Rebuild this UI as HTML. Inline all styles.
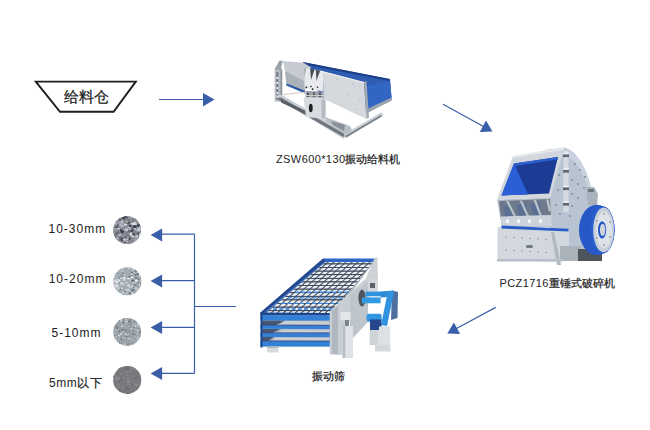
<!DOCTYPE html>
<html><head><meta charset="utf-8">
<style>
html,body{margin:0;padding:0;background:#fff;width:650px;height:430px;overflow:hidden;}
body{position:relative;font-family:"Liberation Sans",sans-serif;color:#333;}
.t{position:absolute;white-space:nowrap;line-height:1;}
.c{-webkit-text-stroke:0.25px #222;}
svg{position:absolute;left:0;top:0;}
</style></head><body>
<svg width="650" height="430" viewBox="0 0 650 430">
  <defs>
    <filter id="soft" x="-5%" y="-5%" width="110%" height="110%"><feGaussianBlur stdDeviation="0.35"/></filter>
    <pattern id="mesh" x="0" y="0.5" width="6" height="3.6" patternUnits="userSpaceOnUse" patternTransform="skewX(-48)">
      <rect width="6" height="3.6" fill="#eef1f4"/>
      <rect x="0" y="0" width="1.8" height="3.6" fill="#5a6470"/>
      <rect x="0" y="0" width="6" height="1.15" fill="#3a4862"/>
    </pattern>
    
    <clipPath id="c1"><circle cx="127.1" cy="230.1" r="13.9"/></clipPath>
    <clipPath id="c2"><circle cx="127.3" cy="281.3" r="14"/></clipPath>
    <clipPath id="c3"><circle cx="127.2" cy="331.9" r="13.9"/></clipPath>
    <clipPath id="c4"><circle cx="127.3" cy="379.9" r="14"/></clipPath>
  </defs>
  <!-- hopper -->
  <polygon points="35.8,81.6 135.8,81.6 113.6,111.8 60,111.8" fill="#fff" stroke="#1e1e1e" stroke-width="1.9"/>
  <!-- arrows -->
  <g fill="#3b5ea8" stroke="#3b5ea8">
    <line x1="159" y1="99.5" x2="204" y2="99.5" stroke-width="1.2"/>
    <polygon points="203,93 214.5,99.5 203,106.5" stroke="none"/>
    <line x1="443" y1="104.2" x2="484" y2="126.8" stroke-width="1.2"/>
    <polygon points="492.5,131.5 479.8,131.9 486,120.5" stroke="none"/>
    <line x1="495.7" y1="307.4" x2="456" y2="328.8" stroke-width="1.2"/>
    <polygon points="447.3,333.5 460.1,334 453.9,322.6" stroke="none"/>
    <line x1="194.5" y1="234" x2="194.5" y2="373.5" stroke-width="1.2"/>
    <line x1="194.5" y1="306.5" x2="236" y2="306.5" stroke-width="1.2"/>
    <line x1="161" y1="234.2" x2="194.5" y2="234.2" stroke-width="1.2"/>
    <polygon points="150.6,235 162.1,228.4 162.1,241.4" stroke="none"/>
    <line x1="161" y1="280.6" x2="194.5" y2="280.6" stroke-width="1.2"/>
    <polygon points="150.6,281 162.1,274.4 162.1,287.4" stroke="none"/>
    <line x1="161" y1="327.3" x2="194.5" y2="327.3" stroke-width="1.2"/>
    <polygon points="150.6,327.5 162.1,321 162.1,334" stroke="none"/>
    <line x1="161" y1="373.4" x2="194.5" y2="373.4" stroke-width="1.2"/>
    <polygon points="150.6,373.5 162.1,367 162.1,380" stroke="none"/>
  </g>
  <!-- stones -->
<g clip-path="url(#c1)"><rect x="112.1" y="215.1" width="30" height="30" fill="#7f838d"/>
<ellipse cx="121.8" cy="219.6" rx="1.58" ry="1.47" fill="#c4c8d2"/>
<ellipse cx="114.9" cy="232.6" rx="1.89" ry="1.16" fill="#b0b4c0"/>
<ellipse cx="125.1" cy="217.2" rx="0.91" ry="0.57" fill="#d8dbe2"/>
<ellipse cx="129.1" cy="243.5" rx="1.56" ry="1.52" fill="#5d616a"/>
<ellipse cx="129.4" cy="227.0" rx="1.97" ry="1.62" fill="#c4c8d2"/>
<ellipse cx="116.1" cy="227.7" rx="1.45" ry="1.05" fill="#5d616a"/>
<ellipse cx="136.6" cy="220.5" rx="1.50" ry="1.01" fill="#9a9ea8"/>
<ellipse cx="115.0" cy="236.5" rx="1.48" ry="1.01" fill="#5d616a"/>
<ellipse cx="132.5" cy="227.9" rx="1.18" ry="1.14" fill="#5d616a"/>
<ellipse cx="122.9" cy="222.6" rx="1.02" ry="0.71" fill="#a39a96"/>
<ellipse cx="129.3" cy="230.9" rx="1.85" ry="1.44" fill="#9a9ea8"/>
<ellipse cx="130.4" cy="217.3" rx="1.41" ry="1.28" fill="#b0b4c0"/>
<ellipse cx="116.7" cy="229.8" rx="0.85" ry="0.53" fill="#9a9ea8"/>
<ellipse cx="128.8" cy="238.8" rx="1.78" ry="1.56" fill="#3b3f48"/>
<ellipse cx="129.9" cy="232.5" rx="1.35" ry="0.86" fill="#a39a96"/>
<ellipse cx="120.2" cy="236.0" rx="0.88" ry="0.77" fill="#9a9ea8"/>
<ellipse cx="131.5" cy="244.9" rx="1.79" ry="1.58" fill="#3b3f48"/>
<ellipse cx="138.7" cy="225.5" rx="1.93" ry="1.29" fill="#3b3f48"/>
<ellipse cx="115.6" cy="216.9" rx="1.72" ry="1.54" fill="#b0b4c0"/>
<ellipse cx="124.0" cy="242.6" rx="1.40" ry="1.09" fill="#b0b4c0"/>
<ellipse cx="128.6" cy="241.6" rx="1.78" ry="1.46" fill="#a39a96"/>
<ellipse cx="133.3" cy="244.7" rx="1.62" ry="1.59" fill="#d8dbe2"/>
<ellipse cx="116.6" cy="220.4" rx="1.08" ry="0.65" fill="#b0b4c0"/>
<ellipse cx="137.0" cy="220.6" rx="1.14" ry="0.87" fill="#b0b4c0"/>
<ellipse cx="123.2" cy="232.1" rx="1.94" ry="1.83" fill="#9a9ea8"/>
<ellipse cx="140.6" cy="234.7" rx="1.69" ry="1.62" fill="#d8dbe2"/>
<ellipse cx="135.5" cy="241.3" rx="1.76" ry="1.33" fill="#d8dbe2"/>
<ellipse cx="123.9" cy="229.5" rx="1.28" ry="0.80" fill="#b0b4c0"/>
<ellipse cx="118.4" cy="220.0" rx="1.21" ry="0.77" fill="#c4c8d2"/>
<ellipse cx="129.1" cy="231.2" rx="1.94" ry="1.18" fill="#5d616a"/>
<ellipse cx="138.3" cy="233.5" rx="0.98" ry="0.96" fill="#3b3f48"/>
<ellipse cx="130.2" cy="229.3" rx="0.94" ry="0.94" fill="#d8dbe2"/>
<ellipse cx="126.1" cy="229.6" rx="0.90" ry="0.81" fill="#c4c8d2"/>
<ellipse cx="134.3" cy="229.5" rx="1.63" ry="0.99" fill="#5d616a"/>
<ellipse cx="140.6" cy="230.9" rx="0.98" ry="0.94" fill="#5d616a"/>
<ellipse cx="134.8" cy="224.0" rx="1.57" ry="1.38" fill="#c4c8d2"/>
<ellipse cx="119.9" cy="226.1" rx="1.00" ry="0.69" fill="#a39a96"/>
<ellipse cx="128.3" cy="230.2" rx="1.56" ry="1.45" fill="#5d616a"/>
<ellipse cx="141.6" cy="240.7" rx="1.77" ry="1.34" fill="#a39a96"/>
<ellipse cx="136.2" cy="221.1" rx="1.39" ry="0.85" fill="#9a9ea8"/>
<ellipse cx="112.9" cy="223.5" rx="1.11" ry="0.94" fill="#9a9ea8"/>
<ellipse cx="122.4" cy="239.4" rx="1.67" ry="1.64" fill="#3b3f48"/>
<ellipse cx="123.0" cy="221.7" rx="1.07" ry="0.79" fill="#b0b4c0"/>
<ellipse cx="126.6" cy="244.7" rx="1.53" ry="1.21" fill="#c4c8d2"/>
<ellipse cx="131.7" cy="239.1" rx="0.90" ry="0.58" fill="#9a9ea8"/>
<ellipse cx="123.8" cy="236.4" rx="1.04" ry="0.80" fill="#b0b4c0"/>
<ellipse cx="131.2" cy="217.7" rx="1.94" ry="1.47" fill="#9a9ea8"/>
<ellipse cx="124.1" cy="243.5" rx="1.67" ry="1.67" fill="#b0b4c0"/>
<ellipse cx="112.9" cy="232.8" rx="1.36" ry="0.89" fill="#9a9ea8"/>
<ellipse cx="136.9" cy="244.5" rx="1.59" ry="1.05" fill="#3b3f48"/>
<ellipse cx="128.5" cy="215.7" rx="1.76" ry="1.51" fill="#9a9ea8"/>
<ellipse cx="127.9" cy="243.1" rx="1.32" ry="0.90" fill="#a39a96"/>
<ellipse cx="138.3" cy="215.9" rx="1.06" ry="0.73" fill="#5d616a"/>
<ellipse cx="129.7" cy="222.9" rx="1.30" ry="0.81" fill="#b0b4c0"/>
<ellipse cx="134.3" cy="242.0" rx="1.59" ry="1.53" fill="#a39a96"/>
<ellipse cx="124.7" cy="242.6" rx="1.40" ry="0.93" fill="#5d616a"/>
<ellipse cx="127.4" cy="241.3" rx="1.73" ry="1.04" fill="#5d616a"/>
<ellipse cx="136.1" cy="220.3" rx="1.37" ry="0.89" fill="#9a9ea8"/>
<ellipse cx="114.0" cy="235.6" rx="1.44" ry="1.31" fill="#d8dbe2"/>
<ellipse cx="115.3" cy="231.9" rx="1.10" ry="0.68" fill="#3b3f48"/>
<ellipse cx="115.0" cy="228.7" rx="0.83" ry="0.65" fill="#c4c8d2"/>
<ellipse cx="130.5" cy="230.3" rx="1.41" ry="1.01" fill="#9a9ea8"/>
<ellipse cx="127.3" cy="239.3" rx="1.41" ry="1.24" fill="#b0b4c0"/>
<ellipse cx="138.4" cy="243.4" rx="1.11" ry="1.06" fill="#5d616a"/>
<ellipse cx="118.2" cy="228.5" rx="1.30" ry="1.01" fill="#d8dbe2"/>
<ellipse cx="114.3" cy="222.3" rx="0.89" ry="0.64" fill="#9a9ea8"/>
<ellipse cx="115.8" cy="238.4" rx="1.93" ry="1.67" fill="#9a9ea8"/>
<ellipse cx="116.4" cy="241.6" rx="1.96" ry="1.76" fill="#b0b4c0"/>
<ellipse cx="114.9" cy="241.6" rx="1.00" ry="0.93" fill="#9a9ea8"/>
<ellipse cx="116.9" cy="228.0" rx="1.42" ry="1.09" fill="#3b3f48"/>
<ellipse cx="122.8" cy="217.9" rx="1.24" ry="1.02" fill="#3b3f48"/>
<ellipse cx="125.3" cy="215.6" rx="1.20" ry="0.86" fill="#5d616a"/>
<ellipse cx="140.9" cy="218.5" rx="1.90" ry="1.88" fill="#b0b4c0"/>
<ellipse cx="115.2" cy="223.1" rx="0.85" ry="0.57" fill="#a39a96"/>
<ellipse cx="134.8" cy="239.7" rx="1.82" ry="1.69" fill="#9a9ea8"/>
<ellipse cx="119.9" cy="219.6" rx="1.90" ry="1.52" fill="#5d616a"/>
<ellipse cx="121.9" cy="223.5" rx="1.76" ry="1.36" fill="#b0b4c0"/>
<ellipse cx="114.3" cy="243.3" rx="1.56" ry="1.10" fill="#a39a96"/>
<ellipse cx="130.3" cy="221.8" rx="1.12" ry="0.87" fill="#c4c8d2"/>
<ellipse cx="122.3" cy="231.7" rx="1.91" ry="1.62" fill="#3b3f48"/>
<ellipse cx="113.4" cy="236.4" rx="1.93" ry="1.36" fill="#b0b4c0"/>
<ellipse cx="117.5" cy="243.1" rx="1.55" ry="1.40" fill="#5d616a"/>
<ellipse cx="120.8" cy="230.1" rx="1.01" ry="0.93" fill="#3b3f48"/>
<ellipse cx="141.9" cy="216.2" rx="0.82" ry="0.67" fill="#5d616a"/>
<ellipse cx="117.8" cy="229.3" rx="1.92" ry="1.66" fill="#c4c8d2"/>
<ellipse cx="131.6" cy="234.8" rx="1.46" ry="1.44" fill="#d8dbe2"/>
<ellipse cx="121.3" cy="221.6" rx="1.08" ry="1.00" fill="#b0b4c0"/>
<ellipse cx="133.3" cy="234.2" rx="1.29" ry="1.28" fill="#3b3f48"/>
<ellipse cx="137.2" cy="215.5" rx="1.55" ry="1.20" fill="#3b3f48"/>
<ellipse cx="113.8" cy="235.1" rx="1.26" ry="1.09" fill="#5d616a"/>
<ellipse cx="120.6" cy="222.4" rx="1.15" ry="0.78" fill="#d8dbe2"/>
<ellipse cx="120.2" cy="215.2" rx="1.24" ry="1.22" fill="#3b3f48"/>
<ellipse cx="128.5" cy="222.4" rx="1.96" ry="1.35" fill="#3b3f48"/>
<ellipse cx="117.6" cy="225.2" rx="0.90" ry="0.72" fill="#3b3f48"/>
<ellipse cx="118.1" cy="230.2" rx="0.81" ry="0.75" fill="#3b3f48"/>
<ellipse cx="116.4" cy="232.7" rx="1.27" ry="0.92" fill="#3b3f48"/>
<ellipse cx="119.1" cy="232.7" rx="1.44" ry="0.95" fill="#a39a96"/>
<ellipse cx="138.9" cy="238.6" rx="1.52" ry="1.11" fill="#a39a96"/>
<ellipse cx="141.6" cy="219.6" rx="1.67" ry="1.10" fill="#9a9ea8"/>
<ellipse cx="136.8" cy="236.6" rx="1.42" ry="1.26" fill="#d8dbe2"/>
<ellipse cx="136.5" cy="219.3" rx="1.43" ry="1.18" fill="#5d616a"/>
<ellipse cx="136.5" cy="215.6" rx="1.62" ry="1.55" fill="#a39a96"/>
<ellipse cx="132.6" cy="235.9" rx="1.08" ry="0.66" fill="#c4c8d2"/>
<ellipse cx="131.2" cy="243.9" rx="1.25" ry="1.03" fill="#d8dbe2"/>
<ellipse cx="130.9" cy="233.9" rx="1.62" ry="1.14" fill="#d8dbe2"/>
<ellipse cx="125.8" cy="217.2" rx="1.92" ry="1.22" fill="#5d616a"/>
<ellipse cx="127.9" cy="237.5" rx="1.37" ry="0.86" fill="#a39a96"/>
<ellipse cx="120.1" cy="237.0" rx="1.05" ry="0.90" fill="#9a9ea8"/>
<ellipse cx="125.9" cy="240.5" rx="0.89" ry="0.64" fill="#9a9ea8"/>
<ellipse cx="113.5" cy="234.1" rx="1.04" ry="0.68" fill="#5d616a"/>
<ellipse cx="119.7" cy="237.4" rx="1.17" ry="0.76" fill="#5d616a"/>
<ellipse cx="126.6" cy="229.7" rx="1.97" ry="1.72" fill="#c4c8d2"/>
<ellipse cx="132.4" cy="223.8" rx="1.42" ry="1.12" fill="#d8dbe2"/>
<ellipse cx="135.1" cy="244.9" rx="1.46" ry="1.45" fill="#3b3f48"/>
<ellipse cx="140.2" cy="215.6" rx="1.35" ry="1.08" fill="#a39a96"/>
<ellipse cx="141.9" cy="244.9" rx="1.26" ry="0.80" fill="#b0b4c0"/>
<ellipse cx="114.8" cy="237.5" rx="1.11" ry="0.73" fill="#3b3f48"/>
<ellipse cx="136.7" cy="230.4" rx="1.86" ry="1.39" fill="#9a9ea8"/>
<ellipse cx="127.0" cy="241.4" rx="1.27" ry="0.77" fill="#b0b4c0"/>
<ellipse cx="126.9" cy="228.6" rx="1.16" ry="0.89" fill="#b0b4c0"/>
<ellipse cx="123.4" cy="218.7" rx="1.20" ry="1.08" fill="#3b3f48"/>
<ellipse cx="137.3" cy="218.7" rx="1.91" ry="1.16" fill="#9a9ea8"/>
<ellipse cx="134.3" cy="222.7" rx="0.88" ry="0.88" fill="#d8dbe2"/>
<ellipse cx="129.8" cy="225.9" rx="1.31" ry="1.24" fill="#3b3f48"/>
<ellipse cx="120.5" cy="216.6" rx="1.59" ry="1.55" fill="#9a9ea8"/>
<ellipse cx="119.6" cy="223.1" rx="1.41" ry="1.28" fill="#b0b4c0"/>
<ellipse cx="135.7" cy="227.9" rx="0.83" ry="0.71" fill="#a39a96"/>
<ellipse cx="139.5" cy="243.3" rx="1.46" ry="0.92" fill="#9a9ea8"/>
<ellipse cx="140.1" cy="227.4" rx="1.54" ry="1.32" fill="#b0b4c0"/>
<ellipse cx="120.7" cy="216.6" rx="1.91" ry="1.28" fill="#b0b4c0"/>
<ellipse cx="124.5" cy="223.6" rx="1.11" ry="1.10" fill="#9a9ea8"/>
<ellipse cx="119.9" cy="234.8" rx="1.16" ry="1.01" fill="#5d616a"/>
<ellipse cx="115.7" cy="234.4" rx="0.89" ry="0.86" fill="#5d616a"/>
<ellipse cx="127.0" cy="221.7" rx="1.89" ry="1.47" fill="#a39a96"/>
<ellipse cx="116.3" cy="220.9" rx="0.91" ry="0.75" fill="#3b3f48"/>
<ellipse cx="121.7" cy="226.1" rx="1.77" ry="1.69" fill="#b0b4c0"/>
<ellipse cx="134.6" cy="227.5" rx="1.30" ry="0.89" fill="#5d616a"/>
<ellipse cx="120.2" cy="237.7" rx="1.40" ry="1.38" fill="#5d616a"/>
<ellipse cx="115.9" cy="230.2" rx="1.56" ry="1.46" fill="#a39a96"/>
<ellipse cx="114.9" cy="242.0" rx="1.26" ry="0.98" fill="#9a9ea8"/>
<ellipse cx="140.7" cy="240.6" rx="1.85" ry="1.20" fill="#c4c8d2"/>
<ellipse cx="124.9" cy="238.0" rx="1.77" ry="1.40" fill="#5d616a"/>
<ellipse cx="114.3" cy="243.0" rx="1.91" ry="1.80" fill="#5d616a"/>
<ellipse cx="141.3" cy="222.6" rx="0.93" ry="0.62" fill="#b0b4c0"/>
<ellipse cx="141.3" cy="218.4" rx="1.79" ry="1.54" fill="#9a9ea8"/>
<ellipse cx="135.0" cy="228.8" rx="1.46" ry="0.88" fill="#c4c8d2"/>
<ellipse cx="115.9" cy="232.2" rx="0.85" ry="0.61" fill="#9a9ea8"/>
<ellipse cx="115.9" cy="222.7" rx="1.56" ry="1.42" fill="#9a9ea8"/>
<ellipse cx="115.1" cy="224.1" rx="1.93" ry="1.46" fill="#b0b4c0"/>
<ellipse cx="118.8" cy="233.1" rx="0.81" ry="0.81" fill="#3b3f48"/>
<ellipse cx="120.5" cy="224.6" rx="1.81" ry="1.43" fill="#b0b4c0"/>
<ellipse cx="119.1" cy="222.5" rx="1.95" ry="1.68" fill="#9a9ea8"/>
<ellipse cx="113.8" cy="220.9" rx="1.86" ry="1.43" fill="#9a9ea8"/>
<ellipse cx="119.8" cy="235.1" rx="1.91" ry="1.52" fill="#b0b4c0"/>
<ellipse cx="133.0" cy="236.6" rx="1.23" ry="0.84" fill="#d8dbe2"/>
<ellipse cx="136.0" cy="237.3" rx="1.41" ry="1.12" fill="#b0b4c0"/>
<ellipse cx="118.1" cy="238.1" rx="1.03" ry="0.71" fill="#d8dbe2"/>
<ellipse cx="134.9" cy="223.9" rx="1.94" ry="1.64" fill="#d8dbe2"/>
<ellipse cx="139.0" cy="229.7" rx="1.89" ry="1.85" fill="#c4c8d2"/>
<ellipse cx="116.5" cy="226.9" rx="1.06" ry="0.69" fill="#5d616a"/>
<ellipse cx="113.7" cy="216.9" rx="1.27" ry="1.21" fill="#9a9ea8"/>
<ellipse cx="134.1" cy="245.0" rx="1.92" ry="1.30" fill="#3b3f48"/>
<ellipse cx="131.7" cy="230.8" rx="1.36" ry="1.18" fill="#3b3f48"/>
<ellipse cx="123.5" cy="226.3" rx="1.20" ry="0.77" fill="#b0b4c0"/>
<ellipse cx="114.4" cy="217.5" rx="1.30" ry="1.08" fill="#c4c8d2"/>
<ellipse cx="134.9" cy="226.5" rx="1.72" ry="1.60" fill="#3b3f48"/>
<ellipse cx="125.1" cy="216.6" rx="1.37" ry="1.12" fill="#3b3f48"/>
<ellipse cx="125.5" cy="224.8" rx="1.68" ry="1.03" fill="#d8dbe2"/>
<ellipse cx="124.4" cy="239.5" rx="1.72" ry="1.29" fill="#c4c8d2"/>
<ellipse cx="126.0" cy="239.2" rx="0.87" ry="0.79" fill="#b0b4c0"/>
</g>
<g clip-path="url(#c2)"><rect x="112.3" y="266.3" width="30" height="30" fill="#a3abb3"/>
<ellipse cx="139.3" cy="276.5" rx="0.97" ry="0.60" fill="#7a848e"/>
<ellipse cx="134.7" cy="287.0" rx="1.62" ry="0.98" fill="#56606a"/>
<ellipse cx="135.0" cy="293.8" rx="1.33" ry="0.81" fill="#d3d9de"/>
<ellipse cx="119.3" cy="280.6" rx="1.66" ry="1.52" fill="#e6eaee"/>
<ellipse cx="139.7" cy="290.7" rx="0.83" ry="0.56" fill="#e6eaee"/>
<ellipse cx="136.4" cy="288.5" rx="1.52" ry="1.28" fill="#c3cad0"/>
<ellipse cx="122.1" cy="275.9" rx="1.06" ry="0.67" fill="#7a848e"/>
<ellipse cx="118.2" cy="288.9" rx="0.95" ry="0.81" fill="#d3d9de"/>
<ellipse cx="126.8" cy="282.6" rx="0.86" ry="0.82" fill="#e6eaee"/>
<ellipse cx="141.9" cy="274.2" rx="0.78" ry="0.60" fill="#d3d9de"/>
<ellipse cx="142.0" cy="295.5" rx="0.87" ry="0.67" fill="#c3cad0"/>
<ellipse cx="130.9" cy="286.5" rx="1.45" ry="1.31" fill="#b8c0c6"/>
<ellipse cx="135.7" cy="275.1" rx="0.98" ry="0.73" fill="#56606a"/>
<ellipse cx="134.4" cy="272.3" rx="0.95" ry="0.66" fill="#c3cad0"/>
<ellipse cx="120.7" cy="293.5" rx="0.89" ry="0.67" fill="#d3d9de"/>
<ellipse cx="142.1" cy="281.5" rx="0.93" ry="0.80" fill="#d3d9de"/>
<ellipse cx="142.0" cy="269.4" rx="1.17" ry="1.10" fill="#c3cad0"/>
<ellipse cx="139.7" cy="267.5" rx="0.99" ry="0.62" fill="#d3d9de"/>
<ellipse cx="130.3" cy="291.1" rx="0.89" ry="0.67" fill="#d3d9de"/>
<ellipse cx="138.3" cy="279.8" rx="0.96" ry="0.94" fill="#b8c0c6"/>
<ellipse cx="115.5" cy="284.2" rx="1.32" ry="0.81" fill="#c3cad0"/>
<ellipse cx="122.5" cy="267.6" rx="1.70" ry="1.43" fill="#d3d9de"/>
<ellipse cx="131.8" cy="272.4" rx="0.71" ry="0.54" fill="#56606a"/>
<ellipse cx="123.5" cy="284.9" rx="0.78" ry="0.71" fill="#d3d9de"/>
<ellipse cx="128.7" cy="268.2" rx="0.80" ry="0.69" fill="#e6eaee"/>
<ellipse cx="116.9" cy="282.3" rx="1.35" ry="1.19" fill="#e6eaee"/>
<ellipse cx="124.6" cy="274.8" rx="1.01" ry="0.73" fill="#d3d9de"/>
<ellipse cx="129.3" cy="277.0" rx="1.12" ry="0.96" fill="#56606a"/>
<ellipse cx="124.0" cy="278.4" rx="1.64" ry="1.58" fill="#e6eaee"/>
<ellipse cx="125.0" cy="290.9" rx="1.11" ry="0.87" fill="#56606a"/>
<ellipse cx="117.2" cy="266.7" rx="1.25" ry="1.15" fill="#b8c0c6"/>
<ellipse cx="124.2" cy="283.5" rx="1.63" ry="1.30" fill="#b8c0c6"/>
<ellipse cx="116.7" cy="274.8" rx="1.22" ry="0.79" fill="#d3d9de"/>
<ellipse cx="127.0" cy="290.4" rx="1.67" ry="1.20" fill="#c3cad0"/>
<ellipse cx="137.4" cy="267.6" rx="1.61" ry="1.00" fill="#56606a"/>
<ellipse cx="140.1" cy="277.9" rx="1.60" ry="1.40" fill="#7a848e"/>
<ellipse cx="139.0" cy="285.5" rx="1.56" ry="1.19" fill="#7a848e"/>
<ellipse cx="137.7" cy="291.2" rx="0.88" ry="0.54" fill="#c3cad0"/>
<ellipse cx="140.5" cy="271.0" rx="1.06" ry="0.74" fill="#c3cad0"/>
<ellipse cx="134.0" cy="293.2" rx="0.74" ry="0.69" fill="#7a848e"/>
<ellipse cx="132.5" cy="286.3" rx="1.02" ry="0.86" fill="#e6eaee"/>
<ellipse cx="128.8" cy="285.1" rx="1.01" ry="0.73" fill="#e6eaee"/>
<ellipse cx="119.8" cy="278.0" rx="1.07" ry="0.83" fill="#7a848e"/>
<ellipse cx="113.0" cy="284.9" rx="1.19" ry="0.93" fill="#c3cad0"/>
<ellipse cx="130.9" cy="290.9" rx="1.54" ry="1.17" fill="#e6eaee"/>
<ellipse cx="114.3" cy="277.1" rx="1.07" ry="0.85" fill="#e6eaee"/>
<ellipse cx="132.0" cy="267.5" rx="0.83" ry="0.60" fill="#b8c0c6"/>
<ellipse cx="133.9" cy="268.7" rx="1.45" ry="1.25" fill="#e6eaee"/>
<ellipse cx="135.8" cy="267.1" rx="0.77" ry="0.68" fill="#7a848e"/>
<ellipse cx="136.7" cy="272.1" rx="1.68" ry="1.20" fill="#e6eaee"/>
<ellipse cx="136.6" cy="290.1" rx="1.39" ry="1.35" fill="#b8c0c6"/>
<ellipse cx="114.3" cy="276.8" rx="1.46" ry="1.06" fill="#c3cad0"/>
<ellipse cx="130.7" cy="293.5" rx="1.16" ry="0.93" fill="#56606a"/>
<ellipse cx="139.9" cy="272.5" rx="0.96" ry="0.67" fill="#7a848e"/>
<ellipse cx="123.5" cy="272.3" rx="1.10" ry="1.08" fill="#b8c0c6"/>
<ellipse cx="132.7" cy="293.2" rx="0.87" ry="0.56" fill="#56606a"/>
<ellipse cx="128.2" cy="285.4" rx="1.06" ry="0.87" fill="#e6eaee"/>
<ellipse cx="129.7" cy="292.8" rx="0.80" ry="0.69" fill="#7a848e"/>
<ellipse cx="124.1" cy="290.2" rx="0.96" ry="0.80" fill="#56606a"/>
<ellipse cx="123.1" cy="289.2" rx="1.14" ry="0.97" fill="#c3cad0"/>
<ellipse cx="141.0" cy="275.2" rx="1.22" ry="1.04" fill="#56606a"/>
<ellipse cx="141.8" cy="283.9" rx="1.36" ry="1.22" fill="#56606a"/>
<ellipse cx="134.7" cy="272.9" rx="0.99" ry="0.77" fill="#b8c0c6"/>
<ellipse cx="127.7" cy="293.2" rx="0.83" ry="0.70" fill="#c3cad0"/>
<ellipse cx="113.7" cy="267.9" rx="1.27" ry="0.81" fill="#56606a"/>
<ellipse cx="123.0" cy="273.0" rx="1.28" ry="0.84" fill="#7a848e"/>
<ellipse cx="123.3" cy="291.2" rx="0.86" ry="0.84" fill="#d3d9de"/>
<ellipse cx="119.6" cy="270.8" rx="0.80" ry="0.52" fill="#b8c0c6"/>
<ellipse cx="132.3" cy="274.4" rx="1.51" ry="0.94" fill="#d3d9de"/>
<ellipse cx="136.9" cy="293.1" rx="1.29" ry="1.01" fill="#7a848e"/>
<ellipse cx="140.4" cy="288.3" rx="0.95" ry="0.59" fill="#d3d9de"/>
<ellipse cx="128.2" cy="278.5" rx="0.94" ry="0.90" fill="#d3d9de"/>
<ellipse cx="115.4" cy="284.7" rx="1.36" ry="0.89" fill="#c3cad0"/>
<ellipse cx="118.3" cy="284.5" rx="1.21" ry="0.92" fill="#b8c0c6"/>
<ellipse cx="130.7" cy="281.6" rx="0.76" ry="0.47" fill="#b8c0c6"/>
<ellipse cx="139.0" cy="289.8" rx="1.42" ry="1.06" fill="#d3d9de"/>
<ellipse cx="125.4" cy="293.7" rx="0.78" ry="0.61" fill="#b8c0c6"/>
<ellipse cx="119.1" cy="269.5" rx="0.93" ry="0.61" fill="#d3d9de"/>
<ellipse cx="139.0" cy="294.1" rx="1.64" ry="1.45" fill="#56606a"/>
<ellipse cx="120.3" cy="282.9" rx="1.14" ry="1.12" fill="#7a848e"/>
<ellipse cx="121.2" cy="294.2" rx="1.59" ry="1.52" fill="#d3d9de"/>
<ellipse cx="112.8" cy="274.1" rx="0.94" ry="0.64" fill="#b8c0c6"/>
<ellipse cx="117.1" cy="293.7" rx="0.89" ry="0.65" fill="#e6eaee"/>
<ellipse cx="119.5" cy="293.5" rx="1.33" ry="1.32" fill="#b8c0c6"/>
<ellipse cx="137.5" cy="282.4" rx="1.17" ry="1.03" fill="#7a848e"/>
<ellipse cx="138.0" cy="279.4" rx="1.42" ry="1.36" fill="#7a848e"/>
<ellipse cx="136.0" cy="278.0" rx="1.29" ry="1.24" fill="#7a848e"/>
<ellipse cx="116.6" cy="267.1" rx="0.81" ry="0.60" fill="#c3cad0"/>
<ellipse cx="116.6" cy="267.2" rx="0.74" ry="0.64" fill="#b8c0c6"/>
<ellipse cx="113.6" cy="268.3" rx="0.75" ry="0.68" fill="#7a848e"/>
<ellipse cx="118.3" cy="294.9" rx="1.23" ry="0.77" fill="#b8c0c6"/>
<ellipse cx="138.3" cy="293.7" rx="1.64" ry="1.15" fill="#d3d9de"/>
<ellipse cx="118.4" cy="267.3" rx="1.65" ry="1.05" fill="#b8c0c6"/>
<ellipse cx="134.8" cy="285.3" rx="1.18" ry="0.75" fill="#c3cad0"/>
<ellipse cx="135.0" cy="272.4" rx="1.02" ry="0.72" fill="#e6eaee"/>
<ellipse cx="122.8" cy="294.2" rx="0.75" ry="0.72" fill="#56606a"/>
<ellipse cx="135.4" cy="284.4" rx="1.18" ry="1.00" fill="#56606a"/>
<ellipse cx="113.2" cy="278.7" rx="1.14" ry="0.84" fill="#d3d9de"/>
<ellipse cx="133.4" cy="282.4" rx="0.92" ry="0.76" fill="#d3d9de"/>
<ellipse cx="120.9" cy="279.4" rx="1.22" ry="1.11" fill="#56606a"/>
<ellipse cx="141.6" cy="266.4" rx="1.19" ry="1.05" fill="#e6eaee"/>
<ellipse cx="137.1" cy="295.3" rx="1.29" ry="0.91" fill="#7a848e"/>
<ellipse cx="140.6" cy="274.8" rx="0.91" ry="0.63" fill="#b8c0c6"/>
<ellipse cx="117.3" cy="294.5" rx="1.47" ry="1.34" fill="#e6eaee"/>
<ellipse cx="133.2" cy="289.9" rx="1.33" ry="0.85" fill="#56606a"/>
<ellipse cx="140.2" cy="293.1" rx="1.45" ry="1.38" fill="#e6eaee"/>
<ellipse cx="113.1" cy="272.5" rx="0.96" ry="0.77" fill="#7a848e"/>
<ellipse cx="123.7" cy="292.8" rx="0.93" ry="0.61" fill="#e6eaee"/>
<ellipse cx="130.1" cy="287.0" rx="1.31" ry="0.97" fill="#d3d9de"/>
<ellipse cx="122.1" cy="271.0" rx="1.54" ry="1.27" fill="#b8c0c6"/>
<ellipse cx="122.0" cy="280.2" rx="1.39" ry="1.16" fill="#56606a"/>
<ellipse cx="116.1" cy="280.2" rx="1.59" ry="1.27" fill="#c3cad0"/>
<ellipse cx="120.3" cy="288.9" rx="1.53" ry="1.01" fill="#7a848e"/>
<ellipse cx="117.0" cy="273.7" rx="1.03" ry="0.76" fill="#7a848e"/>
<ellipse cx="119.4" cy="295.0" rx="0.96" ry="0.96" fill="#b8c0c6"/>
<ellipse cx="117.2" cy="286.0" rx="0.90" ry="0.89" fill="#c3cad0"/>
<ellipse cx="136.1" cy="288.3" rx="1.13" ry="0.73" fill="#c3cad0"/>
<ellipse cx="139.6" cy="274.7" rx="1.59" ry="0.97" fill="#e6eaee"/>
<ellipse cx="124.3" cy="290.0" rx="1.39" ry="1.38" fill="#7a848e"/>
<ellipse cx="121.2" cy="267.0" rx="0.96" ry="0.73" fill="#b8c0c6"/>
<ellipse cx="134.5" cy="293.5" rx="1.13" ry="0.94" fill="#7a848e"/>
<ellipse cx="131.7" cy="291.7" rx="1.37" ry="1.30" fill="#b8c0c6"/>
<ellipse cx="135.5" cy="287.3" rx="1.55" ry="1.04" fill="#b8c0c6"/>
<ellipse cx="116.0" cy="279.3" rx="0.96" ry="0.61" fill="#b8c0c6"/>
<ellipse cx="124.9" cy="289.8" rx="1.41" ry="0.94" fill="#b8c0c6"/>
<ellipse cx="137.8" cy="280.8" rx="0.72" ry="0.58" fill="#e6eaee"/>
<ellipse cx="132.1" cy="292.5" rx="1.59" ry="1.45" fill="#56606a"/>
<ellipse cx="124.0" cy="281.0" rx="1.67" ry="1.17" fill="#d3d9de"/>
<ellipse cx="118.8" cy="287.8" rx="1.65" ry="1.33" fill="#c3cad0"/>
<ellipse cx="115.3" cy="283.5" rx="1.24" ry="0.98" fill="#b8c0c6"/>
<ellipse cx="112.8" cy="290.1" rx="1.07" ry="0.82" fill="#56606a"/>
<ellipse cx="140.7" cy="272.6" rx="1.38" ry="1.12" fill="#e6eaee"/>
<ellipse cx="140.3" cy="288.2" rx="1.31" ry="0.82" fill="#b8c0c6"/>
<ellipse cx="120.5" cy="278.3" rx="0.71" ry="0.69" fill="#e6eaee"/>
<ellipse cx="131.2" cy="286.5" rx="1.28" ry="0.88" fill="#d3d9de"/>
<ellipse cx="134.5" cy="294.5" rx="1.23" ry="1.22" fill="#c3cad0"/>
<ellipse cx="141.1" cy="280.2" rx="0.86" ry="0.80" fill="#d3d9de"/>
<ellipse cx="131.3" cy="280.4" rx="1.26" ry="1.17" fill="#c3cad0"/>
<ellipse cx="116.7" cy="286.3" rx="1.53" ry="1.21" fill="#e6eaee"/>
<ellipse cx="121.1" cy="282.7" rx="0.83" ry="0.61" fill="#e6eaee"/>
<ellipse cx="137.8" cy="274.3" rx="1.08" ry="1.07" fill="#56606a"/>
<ellipse cx="132.7" cy="280.7" rx="1.51" ry="1.12" fill="#56606a"/>
<ellipse cx="131.9" cy="275.9" rx="1.18" ry="1.01" fill="#7a848e"/>
<ellipse cx="132.1" cy="277.2" rx="1.63" ry="1.01" fill="#e6eaee"/>
<ellipse cx="137.1" cy="293.5" rx="1.48" ry="1.21" fill="#c3cad0"/>
<ellipse cx="122.7" cy="283.8" rx="1.36" ry="1.33" fill="#c3cad0"/>
<ellipse cx="132.0" cy="273.8" rx="0.80" ry="0.75" fill="#c3cad0"/>
<ellipse cx="117.9" cy="279.9" rx="1.48" ry="1.43" fill="#c3cad0"/>
<ellipse cx="136.1" cy="271.3" rx="1.59" ry="1.58" fill="#7a848e"/>
<ellipse cx="115.0" cy="293.3" rx="1.25" ry="1.17" fill="#b8c0c6"/>
<ellipse cx="118.2" cy="287.1" rx="1.23" ry="1.15" fill="#b8c0c6"/>
<ellipse cx="132.4" cy="269.8" rx="0.82" ry="0.57" fill="#e6eaee"/>
<ellipse cx="116.5" cy="281.1" rx="0.76" ry="0.73" fill="#e6eaee"/>
<ellipse cx="133.3" cy="273.7" rx="0.86" ry="0.82" fill="#7a848e"/>
<ellipse cx="112.5" cy="291.5" rx="1.17" ry="0.93" fill="#7a848e"/>
<ellipse cx="121.2" cy="280.3" rx="1.13" ry="0.71" fill="#b8c0c6"/>
<ellipse cx="131.4" cy="285.4" rx="0.73" ry="0.45" fill="#7a848e"/>
<ellipse cx="134.4" cy="296.3" rx="1.51" ry="1.21" fill="#d3d9de"/>
<ellipse cx="126.8" cy="293.2" rx="0.73" ry="0.56" fill="#b8c0c6"/>
<ellipse cx="116.1" cy="269.1" rx="1.36" ry="1.07" fill="#56606a"/>
<ellipse cx="128.1" cy="289.4" rx="0.91" ry="0.67" fill="#e6eaee"/>
<ellipse cx="119.8" cy="267.9" rx="0.99" ry="0.92" fill="#56606a"/>
<ellipse cx="124.4" cy="281.4" rx="0.97" ry="0.72" fill="#7a848e"/>
<ellipse cx="118.4" cy="281.1" rx="0.82" ry="0.59" fill="#c3cad0"/>
<ellipse cx="121.3" cy="283.9" rx="1.33" ry="1.01" fill="#d3d9de"/>
<ellipse cx="128.9" cy="278.5" rx="1.27" ry="0.92" fill="#e6eaee"/>
<ellipse cx="112.5" cy="272.0" rx="1.62" ry="1.47" fill="#7a848e"/>
<ellipse cx="114.1" cy="281.3" rx="1.24" ry="1.05" fill="#e6eaee"/>
<ellipse cx="131.1" cy="287.2" rx="1.30" ry="0.82" fill="#b8c0c6"/>
<ellipse cx="113.5" cy="285.3" rx="1.33" ry="0.85" fill="#c3cad0"/>
<ellipse cx="117.7" cy="267.4" rx="1.47" ry="0.89" fill="#b8c0c6"/>
<ellipse cx="138.5" cy="270.5" rx="1.01" ry="0.71" fill="#b8c0c6"/>
<ellipse cx="121.4" cy="279.0" rx="1.02" ry="0.84" fill="#e6eaee"/>
<ellipse cx="129.6" cy="293.7" rx="1.20" ry="0.74" fill="#7a848e"/>
<ellipse cx="115.9" cy="290.6" rx="1.28" ry="0.99" fill="#e6eaee"/>
<ellipse cx="112.7" cy="277.9" rx="1.29" ry="1.28" fill="#b8c0c6"/>
<ellipse cx="126.6" cy="278.7" rx="0.80" ry="0.63" fill="#b8c0c6"/>
<ellipse cx="139.2" cy="285.1" rx="1.13" ry="0.98" fill="#d3d9de"/>
<ellipse cx="116.0" cy="295.3" rx="0.79" ry="0.51" fill="#d3d9de"/>
<ellipse cx="112.8" cy="287.9" rx="0.94" ry="0.85" fill="#b8c0c6"/>
<ellipse cx="140.0" cy="277.3" rx="1.45" ry="1.36" fill="#b8c0c6"/>
<ellipse cx="134.2" cy="268.8" rx="1.33" ry="1.06" fill="#b8c0c6"/>
<ellipse cx="132.4" cy="293.0" rx="1.61" ry="1.43" fill="#d3d9de"/>
<ellipse cx="112.6" cy="266.7" rx="1.35" ry="0.85" fill="#7a848e"/>
<ellipse cx="121.6" cy="288.2" rx="0.87" ry="0.73" fill="#e6eaee"/>
<ellipse cx="121.8" cy="294.8" rx="1.43" ry="1.24" fill="#e6eaee"/>
<ellipse cx="116.6" cy="290.2" rx="1.06" ry="0.71" fill="#b8c0c6"/>
<ellipse cx="136.4" cy="280.6" rx="1.48" ry="1.45" fill="#e6eaee"/>
<ellipse cx="135.8" cy="283.3" rx="0.99" ry="0.84" fill="#d3d9de"/>
<ellipse cx="131.8" cy="290.4" rx="1.30" ry="1.16" fill="#7a848e"/>
</g>
<g clip-path="url(#c3)"><rect x="112.2" y="316.9" width="30" height="30" fill="#9ba3a9"/>
<ellipse cx="112.7" cy="321.4" rx="1.08" ry="0.84" fill="#858e95"/>
<ellipse cx="138.8" cy="328.2" rx="0.98" ry="0.89" fill="#858e95"/>
<ellipse cx="119.2" cy="330.4" rx="0.98" ry="0.69" fill="#6b747c"/>
<ellipse cx="124.9" cy="334.5" rx="1.07" ry="0.77" fill="#c0c7cc"/>
<ellipse cx="116.4" cy="343.6" rx="1.19" ry="0.85" fill="#b0b8be"/>
<ellipse cx="137.7" cy="341.1" rx="0.98" ry="0.72" fill="#d3d8dc"/>
<ellipse cx="114.8" cy="333.5" rx="1.06" ry="0.97" fill="#b0b8be"/>
<ellipse cx="133.9" cy="346.4" rx="0.72" ry="0.62" fill="#c0c7cc"/>
<ellipse cx="126.2" cy="323.1" rx="0.68" ry="0.62" fill="#c0c7cc"/>
<ellipse cx="126.0" cy="319.5" rx="1.06" ry="0.74" fill="#c0c7cc"/>
<ellipse cx="129.6" cy="343.8" rx="1.12" ry="0.82" fill="#858e95"/>
<ellipse cx="127.4" cy="323.0" rx="0.65" ry="0.44" fill="#c0c7cc"/>
<ellipse cx="133.2" cy="327.8" rx="0.90" ry="0.82" fill="#d3d8dc"/>
<ellipse cx="137.9" cy="324.3" rx="1.15" ry="0.86" fill="#d3d8dc"/>
<ellipse cx="115.4" cy="335.9" rx="1.05" ry="0.76" fill="#b0b8be"/>
<ellipse cx="113.1" cy="325.3" rx="0.92" ry="0.57" fill="#c0c7cc"/>
<ellipse cx="141.9" cy="342.9" rx="0.84" ry="0.58" fill="#858e95"/>
<ellipse cx="140.0" cy="325.3" rx="0.57" ry="0.52" fill="#d3d8dc"/>
<ellipse cx="136.8" cy="345.8" rx="0.68" ry="0.50" fill="#c0c7cc"/>
<ellipse cx="142.0" cy="328.2" rx="0.52" ry="0.43" fill="#c0c7cc"/>
<ellipse cx="138.3" cy="330.6" rx="1.16" ry="1.10" fill="#c0c7cc"/>
<ellipse cx="131.4" cy="344.6" rx="0.99" ry="0.70" fill="#c0c7cc"/>
<ellipse cx="129.1" cy="336.1" rx="1.17" ry="0.89" fill="#858e95"/>
<ellipse cx="125.7" cy="321.7" rx="1.18" ry="0.79" fill="#b0b8be"/>
<ellipse cx="140.5" cy="345.1" rx="0.54" ry="0.52" fill="#858e95"/>
<ellipse cx="137.3" cy="318.3" rx="1.05" ry="0.65" fill="#d3d8dc"/>
<ellipse cx="116.5" cy="339.5" rx="1.16" ry="0.97" fill="#6b747c"/>
<ellipse cx="125.4" cy="336.5" rx="0.83" ry="0.58" fill="#6b747c"/>
<ellipse cx="115.9" cy="331.3" rx="0.62" ry="0.57" fill="#b0b8be"/>
<ellipse cx="139.6" cy="343.7" rx="0.83" ry="0.76" fill="#b0b8be"/>
<ellipse cx="116.9" cy="341.9" rx="0.55" ry="0.52" fill="#858e95"/>
<ellipse cx="138.9" cy="321.1" rx="0.81" ry="0.79" fill="#c0c7cc"/>
<ellipse cx="123.8" cy="317.6" rx="0.55" ry="0.40" fill="#6b747c"/>
<ellipse cx="119.2" cy="320.4" rx="0.76" ry="0.52" fill="#6b747c"/>
<ellipse cx="113.9" cy="338.3" rx="0.89" ry="0.69" fill="#b0b8be"/>
<ellipse cx="116.7" cy="329.4" rx="0.67" ry="0.48" fill="#c0c7cc"/>
<ellipse cx="137.4" cy="326.9" rx="0.62" ry="0.40" fill="#d3d8dc"/>
<ellipse cx="125.9" cy="331.4" rx="0.61" ry="0.38" fill="#858e95"/>
<ellipse cx="139.1" cy="336.9" rx="0.65" ry="0.61" fill="#d3d8dc"/>
<ellipse cx="115.8" cy="339.5" rx="1.18" ry="1.18" fill="#d3d8dc"/>
<ellipse cx="142.1" cy="344.7" rx="0.57" ry="0.44" fill="#6b747c"/>
<ellipse cx="117.1" cy="341.9" rx="1.18" ry="1.17" fill="#b0b8be"/>
<ellipse cx="112.7" cy="341.1" rx="0.74" ry="0.57" fill="#b0b8be"/>
<ellipse cx="135.9" cy="345.2" rx="0.70" ry="0.54" fill="#6b747c"/>
<ellipse cx="139.6" cy="323.4" rx="0.90" ry="0.84" fill="#b0b8be"/>
<ellipse cx="127.8" cy="323.8" rx="0.62" ry="0.39" fill="#858e95"/>
<ellipse cx="114.8" cy="335.2" rx="0.85" ry="0.57" fill="#6b747c"/>
<ellipse cx="116.3" cy="337.0" rx="0.94" ry="0.78" fill="#b0b8be"/>
<ellipse cx="118.3" cy="318.9" rx="1.01" ry="0.95" fill="#d3d8dc"/>
<ellipse cx="139.7" cy="332.5" rx="0.74" ry="0.70" fill="#6b747c"/>
<ellipse cx="138.1" cy="331.7" rx="0.51" ry="0.33" fill="#d3d8dc"/>
<ellipse cx="132.2" cy="324.4" rx="0.89" ry="0.55" fill="#6b747c"/>
<ellipse cx="133.3" cy="334.1" rx="1.10" ry="0.89" fill="#6b747c"/>
<ellipse cx="125.6" cy="332.4" rx="0.58" ry="0.54" fill="#b0b8be"/>
<ellipse cx="138.2" cy="326.5" rx="1.00" ry="0.83" fill="#d3d8dc"/>
<ellipse cx="139.1" cy="325.6" rx="0.58" ry="0.45" fill="#d3d8dc"/>
<ellipse cx="113.0" cy="341.0" rx="0.59" ry="0.59" fill="#b0b8be"/>
<ellipse cx="118.9" cy="322.4" rx="0.57" ry="0.47" fill="#6b747c"/>
<ellipse cx="140.9" cy="317.5" rx="1.15" ry="0.81" fill="#b0b8be"/>
<ellipse cx="137.3" cy="336.0" rx="0.82" ry="0.73" fill="#b0b8be"/>
<ellipse cx="115.3" cy="343.0" rx="1.00" ry="0.71" fill="#c0c7cc"/>
<ellipse cx="126.1" cy="334.5" rx="1.03" ry="0.67" fill="#c0c7cc"/>
<ellipse cx="124.4" cy="321.0" rx="0.91" ry="0.60" fill="#b0b8be"/>
<ellipse cx="129.4" cy="339.3" rx="0.62" ry="0.60" fill="#c0c7cc"/>
<ellipse cx="123.9" cy="329.5" rx="1.09" ry="0.67" fill="#858e95"/>
<ellipse cx="141.3" cy="318.5" rx="0.75" ry="0.53" fill="#d3d8dc"/>
<ellipse cx="122.3" cy="330.0" rx="1.19" ry="1.10" fill="#6b747c"/>
<ellipse cx="137.6" cy="318.5" rx="0.86" ry="0.60" fill="#6b747c"/>
<ellipse cx="124.9" cy="335.9" rx="0.76" ry="0.51" fill="#858e95"/>
<ellipse cx="121.9" cy="322.9" rx="0.97" ry="0.64" fill="#b0b8be"/>
<ellipse cx="141.3" cy="340.2" rx="1.16" ry="1.07" fill="#c0c7cc"/>
<ellipse cx="138.7" cy="343.4" rx="0.52" ry="0.37" fill="#858e95"/>
<ellipse cx="132.6" cy="325.1" rx="0.88" ry="0.75" fill="#c0c7cc"/>
<ellipse cx="119.7" cy="332.5" rx="0.80" ry="0.57" fill="#c0c7cc"/>
<ellipse cx="121.4" cy="336.3" rx="0.58" ry="0.57" fill="#858e95"/>
<ellipse cx="139.8" cy="343.9" rx="0.56" ry="0.45" fill="#858e95"/>
<ellipse cx="116.7" cy="320.6" rx="0.59" ry="0.57" fill="#6b747c"/>
<ellipse cx="129.5" cy="325.1" rx="1.02" ry="0.73" fill="#858e95"/>
<ellipse cx="125.8" cy="337.7" rx="0.66" ry="0.45" fill="#d3d8dc"/>
<ellipse cx="133.5" cy="330.7" rx="0.88" ry="0.70" fill="#858e95"/>
<ellipse cx="136.8" cy="317.8" rx="0.73" ry="0.59" fill="#b0b8be"/>
<ellipse cx="123.7" cy="334.5" rx="0.51" ry="0.34" fill="#6b747c"/>
<ellipse cx="140.8" cy="326.6" rx="0.73" ry="0.52" fill="#6b747c"/>
<ellipse cx="141.8" cy="325.8" rx="1.04" ry="0.85" fill="#b0b8be"/>
<ellipse cx="130.4" cy="327.3" rx="0.96" ry="0.73" fill="#858e95"/>
<ellipse cx="125.4" cy="339.0" rx="0.58" ry="0.57" fill="#b0b8be"/>
<ellipse cx="132.5" cy="344.9" rx="0.79" ry="0.52" fill="#6b747c"/>
<ellipse cx="118.3" cy="335.2" rx="0.69" ry="0.44" fill="#858e95"/>
<ellipse cx="137.9" cy="344.6" rx="1.20" ry="1.09" fill="#6b747c"/>
<ellipse cx="133.5" cy="344.3" rx="0.59" ry="0.35" fill="#c0c7cc"/>
<ellipse cx="135.2" cy="334.5" rx="0.85" ry="0.56" fill="#858e95"/>
<ellipse cx="137.7" cy="325.3" rx="0.93" ry="0.70" fill="#c0c7cc"/>
<ellipse cx="125.8" cy="330.6" rx="1.01" ry="0.75" fill="#6b747c"/>
<ellipse cx="128.0" cy="334.8" rx="0.95" ry="0.87" fill="#c0c7cc"/>
<ellipse cx="137.7" cy="331.9" rx="0.81" ry="0.66" fill="#b0b8be"/>
<ellipse cx="136.3" cy="330.0" rx="0.76" ry="0.49" fill="#b0b8be"/>
<ellipse cx="139.8" cy="326.6" rx="1.09" ry="1.07" fill="#b0b8be"/>
<ellipse cx="118.3" cy="329.7" rx="1.14" ry="0.69" fill="#c0c7cc"/>
<ellipse cx="119.9" cy="343.8" rx="0.71" ry="0.65" fill="#858e95"/>
<ellipse cx="128.4" cy="346.8" rx="0.86" ry="0.77" fill="#858e95"/>
<ellipse cx="125.1" cy="330.8" rx="0.53" ry="0.41" fill="#6b747c"/>
<ellipse cx="112.5" cy="318.9" rx="0.66" ry="0.50" fill="#d3d8dc"/>
<ellipse cx="124.2" cy="333.7" rx="0.90" ry="0.89" fill="#b0b8be"/>
<ellipse cx="126.8" cy="330.1" rx="0.94" ry="0.69" fill="#858e95"/>
<ellipse cx="128.1" cy="341.4" rx="0.62" ry="0.46" fill="#6b747c"/>
<ellipse cx="114.5" cy="326.2" rx="0.62" ry="0.55" fill="#6b747c"/>
<ellipse cx="136.8" cy="346.6" rx="1.12" ry="0.96" fill="#d3d8dc"/>
<ellipse cx="127.9" cy="341.4" rx="0.65" ry="0.49" fill="#b0b8be"/>
<ellipse cx="114.0" cy="333.8" rx="0.57" ry="0.57" fill="#858e95"/>
<ellipse cx="131.3" cy="318.2" rx="0.79" ry="0.57" fill="#c0c7cc"/>
<ellipse cx="132.9" cy="317.0" rx="0.71" ry="0.60" fill="#c0c7cc"/>
<ellipse cx="132.2" cy="322.8" rx="0.85" ry="0.70" fill="#858e95"/>
<ellipse cx="138.3" cy="343.8" rx="0.86" ry="0.71" fill="#b0b8be"/>
<ellipse cx="124.5" cy="320.5" rx="0.61" ry="0.39" fill="#858e95"/>
<ellipse cx="115.2" cy="322.0" rx="0.87" ry="0.73" fill="#d3d8dc"/>
<ellipse cx="136.4" cy="318.8" rx="0.51" ry="0.37" fill="#858e95"/>
<ellipse cx="133.7" cy="327.5" rx="0.62" ry="0.53" fill="#6b747c"/>
<ellipse cx="138.0" cy="345.3" rx="0.54" ry="0.42" fill="#b0b8be"/>
<ellipse cx="123.8" cy="318.5" rx="1.12" ry="1.02" fill="#858e95"/>
<ellipse cx="113.5" cy="318.5" rx="0.67" ry="0.41" fill="#b0b8be"/>
<ellipse cx="140.1" cy="342.5" rx="0.72" ry="0.52" fill="#d3d8dc"/>
<ellipse cx="130.3" cy="345.7" rx="0.85" ry="0.59" fill="#c0c7cc"/>
<ellipse cx="123.9" cy="338.5" rx="0.65" ry="0.50" fill="#6b747c"/>
<ellipse cx="133.6" cy="317.6" rx="1.11" ry="0.74" fill="#c0c7cc"/>
<ellipse cx="123.0" cy="322.5" rx="1.18" ry="0.89" fill="#6b747c"/>
<ellipse cx="123.1" cy="327.0" rx="1.11" ry="0.85" fill="#6b747c"/>
<ellipse cx="114.2" cy="320.6" rx="1.08" ry="0.89" fill="#6b747c"/>
<ellipse cx="123.8" cy="330.9" rx="0.74" ry="0.46" fill="#d3d8dc"/>
<ellipse cx="132.1" cy="327.1" rx="0.61" ry="0.39" fill="#b0b8be"/>
<ellipse cx="120.3" cy="342.0" rx="0.59" ry="0.46" fill="#d3d8dc"/>
<ellipse cx="136.0" cy="324.1" rx="0.76" ry="0.67" fill="#b0b8be"/>
<ellipse cx="123.5" cy="345.7" rx="0.65" ry="0.52" fill="#d3d8dc"/>
<ellipse cx="119.0" cy="330.5" rx="0.59" ry="0.50" fill="#6b747c"/>
<ellipse cx="125.4" cy="346.6" rx="0.87" ry="0.74" fill="#d3d8dc"/>
<ellipse cx="118.6" cy="343.1" rx="0.59" ry="0.37" fill="#858e95"/>
<ellipse cx="137.8" cy="339.0" rx="1.04" ry="0.89" fill="#c0c7cc"/>
<ellipse cx="129.2" cy="326.2" rx="0.77" ry="0.68" fill="#c0c7cc"/>
<ellipse cx="135.5" cy="323.8" rx="0.63" ry="0.40" fill="#c0c7cc"/>
<ellipse cx="139.6" cy="341.1" rx="1.03" ry="0.65" fill="#b0b8be"/>
<ellipse cx="121.5" cy="323.7" rx="0.59" ry="0.42" fill="#d3d8dc"/>
<ellipse cx="124.3" cy="344.2" rx="1.04" ry="1.02" fill="#b0b8be"/>
<ellipse cx="117.5" cy="327.9" rx="1.06" ry="1.02" fill="#6b747c"/>
<ellipse cx="113.0" cy="338.0" rx="0.82" ry="0.61" fill="#d3d8dc"/>
<ellipse cx="131.1" cy="322.3" rx="0.58" ry="0.52" fill="#858e95"/>
<ellipse cx="133.6" cy="318.1" rx="0.53" ry="0.41" fill="#b0b8be"/>
<ellipse cx="134.9" cy="321.6" rx="1.02" ry="0.74" fill="#858e95"/>
<ellipse cx="131.3" cy="322.3" rx="1.09" ry="0.87" fill="#858e95"/>
<ellipse cx="127.8" cy="344.7" rx="0.97" ry="0.72" fill="#858e95"/>
<ellipse cx="112.2" cy="341.9" rx="1.04" ry="1.00" fill="#6b747c"/>
<ellipse cx="138.5" cy="334.5" rx="0.99" ry="0.86" fill="#b0b8be"/>
<ellipse cx="113.3" cy="326.5" rx="1.04" ry="0.94" fill="#6b747c"/>
<ellipse cx="114.8" cy="337.7" rx="0.78" ry="0.72" fill="#858e95"/>
<ellipse cx="120.6" cy="319.6" rx="1.16" ry="0.90" fill="#d3d8dc"/>
<ellipse cx="122.4" cy="332.0" rx="0.98" ry="0.79" fill="#d3d8dc"/>
<ellipse cx="132.5" cy="323.1" rx="0.97" ry="0.77" fill="#b0b8be"/>
<ellipse cx="117.9" cy="345.5" rx="1.08" ry="0.76" fill="#858e95"/>
<ellipse cx="128.6" cy="346.0" rx="0.95" ry="0.67" fill="#858e95"/>
<ellipse cx="141.1" cy="321.9" rx="0.74" ry="0.51" fill="#c0c7cc"/>
<ellipse cx="121.5" cy="321.0" rx="0.99" ry="0.69" fill="#d3d8dc"/>
<ellipse cx="119.5" cy="332.4" rx="0.81" ry="0.71" fill="#6b747c"/>
<ellipse cx="116.2" cy="338.1" rx="0.91" ry="0.67" fill="#b0b8be"/>
<ellipse cx="136.7" cy="333.3" rx="1.03" ry="0.90" fill="#b0b8be"/>
<ellipse cx="116.8" cy="346.3" rx="1.09" ry="1.01" fill="#d3d8dc"/>
<ellipse cx="115.6" cy="325.6" rx="0.75" ry="0.46" fill="#b0b8be"/>
<ellipse cx="139.1" cy="326.0" rx="0.58" ry="0.45" fill="#6b747c"/>
<ellipse cx="115.6" cy="326.6" rx="0.83" ry="0.59" fill="#6b747c"/>
<ellipse cx="128.9" cy="318.3" rx="0.83" ry="0.52" fill="#d3d8dc"/>
<ellipse cx="133.7" cy="346.3" rx="0.89" ry="0.77" fill="#c0c7cc"/>
<ellipse cx="140.9" cy="331.6" rx="1.05" ry="0.63" fill="#6b747c"/>
<ellipse cx="139.8" cy="336.2" rx="0.94" ry="0.81" fill="#6b747c"/>
<ellipse cx="114.5" cy="339.3" rx="0.52" ry="0.48" fill="#d3d8dc"/>
<ellipse cx="121.1" cy="322.5" rx="0.95" ry="0.61" fill="#b0b8be"/>
<ellipse cx="133.8" cy="326.2" rx="0.93" ry="0.63" fill="#d3d8dc"/>
<ellipse cx="137.0" cy="326.5" rx="0.76" ry="0.73" fill="#858e95"/>
<ellipse cx="137.3" cy="324.5" rx="0.54" ry="0.45" fill="#c0c7cc"/>
<ellipse cx="131.0" cy="341.5" rx="0.99" ry="0.97" fill="#c0c7cc"/>
<ellipse cx="127.0" cy="331.9" rx="0.61" ry="0.51" fill="#6b747c"/>
<ellipse cx="131.0" cy="321.2" rx="0.66" ry="0.51" fill="#b0b8be"/>
<ellipse cx="141.3" cy="319.6" rx="0.53" ry="0.42" fill="#d3d8dc"/>
<ellipse cx="118.7" cy="328.1" rx="0.52" ry="0.49" fill="#858e95"/>
<ellipse cx="135.8" cy="329.7" rx="0.70" ry="0.56" fill="#c0c7cc"/>
<ellipse cx="124.8" cy="327.1" rx="0.81" ry="0.78" fill="#b0b8be"/>
<ellipse cx="117.1" cy="325.8" rx="0.81" ry="0.70" fill="#858e95"/>
<ellipse cx="129.2" cy="331.0" rx="0.88" ry="0.69" fill="#858e95"/>
<ellipse cx="141.3" cy="344.2" rx="1.11" ry="1.09" fill="#d3d8dc"/>
<ellipse cx="130.8" cy="341.2" rx="0.54" ry="0.46" fill="#6b747c"/>
<ellipse cx="121.1" cy="334.0" rx="1.17" ry="1.01" fill="#d3d8dc"/>
<ellipse cx="116.3" cy="342.9" rx="0.87" ry="0.82" fill="#c0c7cc"/>
<ellipse cx="118.9" cy="339.1" rx="0.98" ry="0.85" fill="#b0b8be"/>
<ellipse cx="123.4" cy="334.3" rx="0.79" ry="0.55" fill="#858e95"/>
<ellipse cx="125.4" cy="324.7" rx="0.66" ry="0.54" fill="#b0b8be"/>
<ellipse cx="115.6" cy="342.8" rx="0.68" ry="0.46" fill="#c0c7cc"/>
<ellipse cx="132.3" cy="338.2" rx="0.66" ry="0.46" fill="#d3d8dc"/>
<ellipse cx="129.4" cy="320.3" rx="0.86" ry="0.71" fill="#858e95"/>
<ellipse cx="137.7" cy="337.3" rx="1.06" ry="1.00" fill="#b0b8be"/>
<ellipse cx="128.7" cy="338.3" rx="1.03" ry="0.88" fill="#c0c7cc"/>
<ellipse cx="141.0" cy="332.4" rx="0.82" ry="0.67" fill="#d3d8dc"/>
<ellipse cx="141.2" cy="322.6" rx="0.83" ry="0.55" fill="#c0c7cc"/>
<ellipse cx="135.5" cy="318.6" rx="0.67" ry="0.41" fill="#6b747c"/>
<ellipse cx="133.3" cy="345.6" rx="0.82" ry="0.73" fill="#c0c7cc"/>
<ellipse cx="125.0" cy="343.6" rx="0.93" ry="0.77" fill="#b0b8be"/>
<ellipse cx="139.7" cy="343.0" rx="0.62" ry="0.57" fill="#6b747c"/>
<ellipse cx="134.3" cy="317.2" rx="0.68" ry="0.51" fill="#b0b8be"/>
<ellipse cx="134.3" cy="345.3" rx="1.01" ry="0.93" fill="#c0c7cc"/>
<ellipse cx="122.8" cy="327.6" rx="0.73" ry="0.47" fill="#858e95"/>
<ellipse cx="140.0" cy="337.2" rx="0.68" ry="0.60" fill="#b0b8be"/>
<ellipse cx="112.8" cy="346.6" rx="0.81" ry="0.64" fill="#c0c7cc"/>
<ellipse cx="114.4" cy="324.7" rx="0.61" ry="0.57" fill="#6b747c"/>
<ellipse cx="132.3" cy="342.0" rx="0.91" ry="0.74" fill="#6b747c"/>
<ellipse cx="132.9" cy="341.1" rx="1.16" ry="0.71" fill="#c0c7cc"/>
<ellipse cx="142.0" cy="331.5" rx="0.84" ry="0.77" fill="#c0c7cc"/>
<ellipse cx="113.3" cy="322.4" rx="1.07" ry="0.81" fill="#858e95"/>
<ellipse cx="126.5" cy="321.6" rx="1.09" ry="0.76" fill="#d3d8dc"/>
<ellipse cx="140.9" cy="332.4" rx="0.75" ry="0.52" fill="#858e95"/>
<ellipse cx="139.0" cy="334.6" rx="0.53" ry="0.49" fill="#b0b8be"/>
<ellipse cx="134.0" cy="326.8" rx="0.83" ry="0.60" fill="#6b747c"/>
<ellipse cx="122.3" cy="331.4" rx="0.66" ry="0.52" fill="#b0b8be"/>
<ellipse cx="141.8" cy="318.3" rx="0.60" ry="0.43" fill="#b0b8be"/>
<ellipse cx="120.4" cy="331.9" rx="0.68" ry="0.57" fill="#858e95"/>
<ellipse cx="129.7" cy="321.1" rx="0.99" ry="0.95" fill="#858e95"/>
<ellipse cx="115.1" cy="322.9" rx="0.80" ry="0.68" fill="#858e95"/>
<ellipse cx="123.1" cy="325.3" rx="1.06" ry="0.92" fill="#b0b8be"/>
<ellipse cx="121.3" cy="339.8" rx="1.02" ry="0.96" fill="#858e95"/>
<ellipse cx="119.6" cy="343.1" rx="1.00" ry="0.62" fill="#6b747c"/>
<ellipse cx="122.3" cy="326.6" rx="1.19" ry="0.96" fill="#d3d8dc"/>
<ellipse cx="139.0" cy="341.2" rx="1.20" ry="0.78" fill="#b0b8be"/>
<ellipse cx="112.4" cy="343.0" rx="0.82" ry="0.62" fill="#d3d8dc"/>
<ellipse cx="135.4" cy="344.8" rx="0.91" ry="0.66" fill="#b0b8be"/>
<ellipse cx="121.5" cy="338.7" rx="0.89" ry="0.56" fill="#6b747c"/>
<ellipse cx="117.9" cy="344.6" rx="0.91" ry="0.76" fill="#6b747c"/>
<ellipse cx="141.8" cy="327.6" rx="1.04" ry="0.93" fill="#d3d8dc"/>
<ellipse cx="139.9" cy="342.1" rx="0.72" ry="0.51" fill="#b0b8be"/>
<ellipse cx="119.9" cy="317.6" rx="0.62" ry="0.43" fill="#6b747c"/>
<ellipse cx="112.8" cy="318.3" rx="0.81" ry="0.58" fill="#858e95"/>
<ellipse cx="127.3" cy="319.9" rx="0.67" ry="0.66" fill="#c0c7cc"/>
<ellipse cx="130.2" cy="319.3" rx="1.07" ry="0.79" fill="#858e95"/>
<ellipse cx="116.3" cy="322.5" rx="0.88" ry="0.75" fill="#c0c7cc"/>
<ellipse cx="139.9" cy="323.3" rx="0.73" ry="0.63" fill="#c0c7cc"/>
<ellipse cx="124.4" cy="337.3" rx="0.74" ry="0.70" fill="#c0c7cc"/>
<ellipse cx="136.1" cy="319.5" rx="0.93" ry="0.92" fill="#d3d8dc"/>
<ellipse cx="124.2" cy="345.1" rx="1.11" ry="1.08" fill="#c0c7cc"/>
<ellipse cx="129.1" cy="346.5" rx="0.54" ry="0.48" fill="#858e95"/>
<ellipse cx="137.2" cy="321.6" rx="0.51" ry="0.34" fill="#b0b8be"/>
<ellipse cx="135.2" cy="319.6" rx="1.07" ry="0.79" fill="#d3d8dc"/>
<ellipse cx="132.6" cy="342.9" rx="0.61" ry="0.50" fill="#858e95"/>
<ellipse cx="119.1" cy="335.5" rx="1.07" ry="0.97" fill="#d3d8dc"/>
<ellipse cx="135.5" cy="326.2" rx="1.04" ry="0.86" fill="#d3d8dc"/>
<ellipse cx="123.0" cy="332.8" rx="0.69" ry="0.42" fill="#6b747c"/>
<ellipse cx="126.5" cy="336.6" rx="1.04" ry="0.69" fill="#6b747c"/>
<ellipse cx="131.1" cy="328.9" rx="1.19" ry="1.01" fill="#c0c7cc"/>
<ellipse cx="115.9" cy="333.2" rx="0.64" ry="0.45" fill="#b0b8be"/>
<ellipse cx="130.4" cy="339.0" rx="1.13" ry="0.92" fill="#b0b8be"/>
<ellipse cx="122.7" cy="338.2" rx="0.81" ry="0.55" fill="#d3d8dc"/>
<ellipse cx="139.6" cy="343.9" rx="0.77" ry="0.56" fill="#b0b8be"/>
<ellipse cx="139.3" cy="320.1" rx="1.01" ry="0.94" fill="#c0c7cc"/>
<ellipse cx="139.6" cy="337.1" rx="0.75" ry="0.62" fill="#b0b8be"/>
<ellipse cx="124.5" cy="344.5" rx="1.16" ry="0.71" fill="#b0b8be"/>
<ellipse cx="112.8" cy="338.2" rx="0.67" ry="0.46" fill="#6b747c"/>
<ellipse cx="135.0" cy="336.2" rx="0.71" ry="0.49" fill="#d3d8dc"/>
<ellipse cx="129.3" cy="321.6" rx="1.10" ry="1.08" fill="#6b747c"/>
</g>
<g clip-path="url(#c4)"><rect x="112.3" y="364.9" width="30" height="30" fill="#78797c"/>
<ellipse cx="116.4" cy="373.9" rx="0.92" ry="0.73" fill="#838486"/>
<ellipse cx="139.0" cy="369.7" rx="1.76" ry="1.20" fill="#737477"/>
<ellipse cx="113.9" cy="388.4" rx="1.99" ry="1.23" fill="#8a8b8e"/>
<ellipse cx="135.5" cy="378.1" rx="1.41" ry="1.41" fill="#6e6f72"/>
<ellipse cx="121.2" cy="365.6" rx="0.96" ry="0.62" fill="#838486"/>
<ellipse cx="121.4" cy="380.0" rx="1.29" ry="1.02" fill="#6e6f72"/>
<ellipse cx="124.2" cy="377.3" rx="1.70" ry="1.62" fill="#737477"/>
<ellipse cx="141.7" cy="365.9" rx="1.13" ry="0.69" fill="#838486"/>
<ellipse cx="127.4" cy="371.8" rx="1.40" ry="1.25" fill="#838486"/>
<ellipse cx="113.7" cy="391.7" rx="0.89" ry="0.58" fill="#838486"/>
<ellipse cx="126.9" cy="369.0" rx="1.40" ry="0.97" fill="#6e6f72"/>
<ellipse cx="128.5" cy="383.9" rx="1.56" ry="1.27" fill="#838486"/>
<ellipse cx="137.5" cy="393.6" rx="0.91" ry="0.85" fill="#6e6f72"/>
<ellipse cx="141.5" cy="371.6" rx="0.90" ry="0.55" fill="#6e6f72"/>
<ellipse cx="120.4" cy="393.9" rx="1.08" ry="0.82" fill="#838486"/>
<ellipse cx="129.0" cy="375.8" rx="0.81" ry="0.70" fill="#838486"/>
<ellipse cx="128.6" cy="381.4" rx="1.77" ry="1.34" fill="#8a8b8e"/>
<ellipse cx="121.8" cy="377.5" rx="2.16" ry="1.96" fill="#737477"/>
<ellipse cx="138.8" cy="389.0" rx="2.06" ry="1.43" fill="#838486"/>
<ellipse cx="127.3" cy="394.6" rx="1.77" ry="1.76" fill="#737477"/>
<ellipse cx="137.1" cy="384.8" rx="0.92" ry="0.89" fill="#838486"/>
<ellipse cx="113.8" cy="385.7" rx="1.25" ry="1.03" fill="#737477"/>
<ellipse cx="121.8" cy="394.0" rx="0.80" ry="0.64" fill="#737477"/>
<ellipse cx="130.1" cy="394.7" rx="1.13" ry="0.84" fill="#737477"/>
<ellipse cx="114.2" cy="394.2" rx="1.17" ry="0.74" fill="#8a8b8e"/>
<ellipse cx="136.2" cy="384.8" rx="2.09" ry="1.48" fill="#8a8b8e"/>
<ellipse cx="137.5" cy="390.6" rx="1.29" ry="1.07" fill="#737477"/>
<ellipse cx="142.3" cy="366.9" rx="1.86" ry="1.51" fill="#8a8b8e"/>
<ellipse cx="128.1" cy="389.3" rx="1.13" ry="0.75" fill="#6e6f72"/>
<ellipse cx="132.2" cy="370.2" rx="2.13" ry="1.55" fill="#838486"/>
<ellipse cx="123.2" cy="390.8" rx="1.40" ry="0.93" fill="#737477"/>
<ellipse cx="119.8" cy="368.0" rx="1.30" ry="1.01" fill="#8a8b8e"/>
<ellipse cx="114.9" cy="376.8" rx="2.20" ry="1.71" fill="#838486"/>
<ellipse cx="126.7" cy="388.8" rx="1.86" ry="1.12" fill="#6e6f72"/>
<ellipse cx="116.2" cy="379.6" rx="1.72" ry="1.40" fill="#8a8b8e"/>
<ellipse cx="136.3" cy="372.5" rx="1.58" ry="1.31" fill="#838486"/>
<ellipse cx="114.0" cy="370.3" rx="1.81" ry="1.75" fill="#8a8b8e"/>
<ellipse cx="120.0" cy="372.9" rx="1.41" ry="1.33" fill="#737477"/>
<ellipse cx="118.4" cy="377.6" rx="1.91" ry="1.85" fill="#8a8b8e"/>
<ellipse cx="133.8" cy="376.2" rx="0.86" ry="0.85" fill="#8a8b8e"/>
<ellipse cx="125.2" cy="383.1" rx="1.16" ry="0.87" fill="#6e6f72"/>
<ellipse cx="129.7" cy="392.6" rx="1.07" ry="0.67" fill="#8a8b8e"/>
<ellipse cx="118.4" cy="390.7" rx="0.91" ry="0.69" fill="#737477"/>
<ellipse cx="128.1" cy="379.8" rx="2.06" ry="1.33" fill="#838486"/>
<ellipse cx="129.2" cy="393.0" rx="1.78" ry="1.36" fill="#737477"/>
<ellipse cx="126.5" cy="391.6" rx="1.42" ry="0.93" fill="#737477"/>
<ellipse cx="134.9" cy="365.2" rx="1.13" ry="0.86" fill="#6e6f72"/>
<ellipse cx="113.5" cy="385.3" rx="1.58" ry="1.43" fill="#737477"/>
<ellipse cx="115.8" cy="371.5" rx="0.91" ry="0.58" fill="#838486"/>
<ellipse cx="114.9" cy="387.5" rx="1.59" ry="1.48" fill="#838486"/>
<ellipse cx="118.3" cy="375.0" rx="2.01" ry="1.88" fill="#737477"/>
<ellipse cx="116.5" cy="377.1" rx="0.87" ry="0.63" fill="#6e6f72"/>
<ellipse cx="118.0" cy="394.4" rx="1.06" ry="0.86" fill="#8a8b8e"/>
<ellipse cx="114.9" cy="376.4" rx="1.73" ry="1.42" fill="#8a8b8e"/>
<ellipse cx="127.6" cy="377.5" rx="0.87" ry="0.61" fill="#8a8b8e"/>
<ellipse cx="123.7" cy="378.0" rx="1.56" ry="1.06" fill="#8a8b8e"/>
<ellipse cx="113.9" cy="381.0" rx="1.32" ry="1.14" fill="#737477"/>
<ellipse cx="133.6" cy="369.1" rx="2.10" ry="1.43" fill="#8a8b8e"/>
<ellipse cx="139.9" cy="381.6" rx="0.87" ry="0.53" fill="#8a8b8e"/>
<ellipse cx="114.3" cy="393.4" rx="1.95" ry="1.39" fill="#838486"/>
<ellipse cx="136.2" cy="373.6" rx="1.79" ry="1.37" fill="#737477"/>
<ellipse cx="134.1" cy="371.0" rx="1.08" ry="0.84" fill="#6e6f72"/>
<ellipse cx="131.5" cy="366.4" rx="2.01" ry="1.86" fill="#838486"/>
<ellipse cx="127.2" cy="365.3" rx="1.81" ry="1.45" fill="#6e6f72"/>
<ellipse cx="132.5" cy="385.1" rx="1.21" ry="0.99" fill="#6e6f72"/>
<ellipse cx="117.1" cy="388.2" rx="1.80" ry="1.42" fill="#838486"/>
<ellipse cx="118.3" cy="367.6" rx="0.87" ry="0.75" fill="#6e6f72"/>
<ellipse cx="120.0" cy="392.1" rx="1.76" ry="1.67" fill="#6e6f72"/>
<ellipse cx="140.0" cy="368.9" rx="1.02" ry="0.73" fill="#737477"/>
<ellipse cx="119.3" cy="382.4" rx="1.25" ry="0.90" fill="#6e6f72"/>
<ellipse cx="120.0" cy="381.4" rx="1.10" ry="0.83" fill="#6e6f72"/>
<ellipse cx="113.3" cy="376.3" rx="1.70" ry="1.46" fill="#6e6f72"/>
<ellipse cx="133.1" cy="370.8" rx="1.01" ry="0.78" fill="#6e6f72"/>
<ellipse cx="132.7" cy="368.3" rx="1.96" ry="1.69" fill="#838486"/>
<ellipse cx="118.6" cy="384.6" rx="1.53" ry="1.10" fill="#838486"/>
<ellipse cx="122.7" cy="387.4" rx="1.50" ry="1.02" fill="#838486"/>
<ellipse cx="120.7" cy="374.0" rx="1.62" ry="1.10" fill="#838486"/>
<ellipse cx="126.4" cy="387.9" rx="1.87" ry="1.56" fill="#6e6f72"/>
<ellipse cx="121.3" cy="382.3" rx="0.94" ry="0.69" fill="#838486"/>
<ellipse cx="140.6" cy="384.6" rx="0.87" ry="0.64" fill="#8a8b8e"/>
<ellipse cx="126.7" cy="374.8" rx="1.31" ry="1.20" fill="#838486"/>
<ellipse cx="121.2" cy="367.0" rx="1.58" ry="1.42" fill="#838486"/>
<ellipse cx="115.7" cy="369.7" rx="1.35" ry="0.83" fill="#838486"/>
<ellipse cx="127.7" cy="367.8" rx="1.71" ry="1.31" fill="#6e6f72"/>
<ellipse cx="137.4" cy="367.2" rx="1.82" ry="1.35" fill="#6e6f72"/>
<ellipse cx="132.2" cy="367.6" rx="0.81" ry="0.58" fill="#737477"/>
<ellipse cx="120.1" cy="368.1" rx="1.13" ry="0.91" fill="#6e6f72"/>
<ellipse cx="128.4" cy="368.4" rx="1.45" ry="1.20" fill="#6e6f72"/>
<ellipse cx="113.6" cy="372.6" rx="2.13" ry="1.62" fill="#8a8b8e"/>
<ellipse cx="118.4" cy="368.7" rx="1.14" ry="1.09" fill="#6e6f72"/>
</g>
<g filter="url(#soft)">
  <g id="feeder">
    <!-- blue trough back wall + floor -->
    <polygon points="303,62.3 390,79.2 391.6,98.5 368,112.5 322,98 305,70" fill="#2e5cb2"/>
    <polygon points="303,62 390,79 390,81 303,64.2" fill="#1e3f86"/>
    <polygon points="366,86 390,81 391.6,98.5 368,110" fill="#3366c2"/>
    <!-- trough lip teeth -->
    <polygon points="366,109.5 391.6,97.5 392,100.5 367,113" fill="#9aa3ae"/>
    <!-- left post -->
    <rect x="274.7" y="68" width="7.5" height="33.5" fill="#b5bbc3"/>
    <rect x="276.4" y="72" width="1.8" height="27" fill="#6e757e"/>
    <g fill="#eceef0">
      <rect x="276.4" y="77" width="1.8" height="2"/><rect x="276.4" y="82" width="1.8" height="2"/>
      <rect x="276.4" y="87" width="1.8" height="2"/><rect x="276.4" y="92" width="1.8" height="2"/>
    </g>
    <rect x="280.5" y="70" width="1.7" height="31" fill="#8a9199"/>
    <!-- end cap -->
    <polygon points="274.7,69 279.3,60.8 282.8,60.8 280.5,70.1" fill="#9aa1aa"/>
    <!-- back-left plate -->
    <polygon points="279.3,60.8 303.7,62.8 311,67.5 305,92.2 286.3,83 285.1,71.3 282.8,60.8" fill="#c6cbd2"/>
    <polygon points="285.1,71.3 305,81.5 305,92.2 286.3,83" fill="#abb1b9"/>
    <polygon points="286.3,83.2 305,90.8 305,93.6 286.3,85.6" fill="#2f59a8"/>
    <!-- thin rod -->
    <polygon points="282.5,94 305,91.8 305,92.8 282.5,95.2" fill="#d8d2c6"/>
    <!-- V brackets -->
    <polygon points="304.5,68 323,71 323,91.2 304.5,88.5" fill="#e8eaed"/>
    <polygon points="310.2,68.6 314.6,69.4 311,80" fill="#454c56"/>
    <polygon points="315.8,70 320.2,70.6 316.5,81" fill="#4b525c"/>
    <polygon points="304.5,68 306,68.2 304.5,78" fill="#8f96a0"/>
    <g fill="#222">
      <circle cx="306.3" cy="87.3" r="0.9"/><circle cx="311" cy="86.5" r="0.8"/>
      <circle cx="312.6" cy="89.2" r="0.9"/><circle cx="317.5" cy="87.3" r="0.8"/>
    </g>
    <!-- base long beam -->
    <polygon points="274,96 281,94.5 347.5,133 343.8,139" fill="#c8cdd3"/>
    <polygon points="276,98.5 281,97.5 345.5,134.5 343.5,137" fill="#6f767e"/>
    <polygon points="281,99.5 306,111 306,114 281,102.5" fill="#5a6068"/>
    <!-- right crossbeam -->
    <polygon points="343.5,134.5 381,112.5 384,114.5 346.5,138" fill="#cbd0d6"/>
    <polygon points="345,136 381,115 382,116.5 346,137.5" fill="#7a818a"/>
    <!-- small cross support -->
    <polygon points="325,117 350,126 352,130 346,134.5 326,121.5" fill="#b8bec5"/>
    <polygon points="331,121 345,125 344,131 333,125" fill="#8a9199"/>
    <!-- motor block -->
    <polygon points="305.5,91 323.5,91.5 323.5,98 305.5,98" fill="#9ba1a9"/>
    <rect x="307" y="92.5" width="2" height="5" fill="#4d535b"/>
    <rect x="313" y="92.5" width="2" height="5" fill="#5a6068"/>
    <rect x="319" y="92.5" width="2" height="5" fill="#4d535b"/>
    <rect x="305.5" y="95" width="18" height="1" fill="#c8ccd1"/>
    <polygon points="304,97 322,97.5 325.5,100 325.5,119 306,117 304,101" fill="#d8dbdf"/>
    <polygon points="321.5,99 325.5,100 325.5,119 321.5,118" fill="#b5bbc2"/>
    <ellipse cx="310.8" cy="108" rx="1.9" ry="4.2" fill="#1e2126"/>
    <!-- front plate -->
    <polygon points="322.8,71.2 364,81.9 366.5,119 323.5,98.7" fill="#d5d8dc"/>
    <polygon points="364,81.9 366.5,81 369,117.5 366.5,119" fill="#a2a8b0"/>
    <polygon points="322.8,71.2 364,81.9 364,83 322.8,72.4" fill="#eceef0"/>
    <g fill="#9fa6ae">
      <circle cx="337" cy="79" r="0.6"/><circle cx="344" cy="81" r="0.6"/><circle cx="353" cy="84" r="0.6"/><circle cx="360" cy="86" r="0.6"/>
      <circle cx="336" cy="92" r="0.6"/><circle cx="349" cy="95" r="0.6"/><circle cx="359" cy="99" r="0.6"/>
      <circle cx="341" cy="104" r="0.6"/><circle cx="355" cy="109" r="0.6"/>
    </g>
  </g>

  <g id="crusher">
    <!-- housing -->
    <path d="M545,150 L564.4,147.5 L571,150.5 C579,156 589,172 593,197 L595,252 L551,252 L548,200 Z" fill="#b9c4d3"/>
    <path d="M566,152 L571,150.5 C579,156 589,172 593,197 L590,197 C586,178 578,162 566,155 Z" fill="#c9d2de"/>
    <!-- bolt column -->
    <rect x="563.5" y="150" width="5" height="62" fill="#d5dae1"/>
    <g fill="#5f6975">
      <rect x="563" y="154.5" width="6" height="2.6"/>
      <rect x="563" y="170" width="6" height="2.6"/>
      <rect x="563" y="187.5" width="6" height="2.6"/>
      <rect x="563" y="203" width="6" height="2.6"/>
    </g>
    <g fill="#eef1f4">
      <rect x="563.5" y="152.5" width="5" height="1.5"/>
      <rect x="563.5" y="168" width="5" height="1.5"/>
      <rect x="563.5" y="185.5" width="5" height="1.5"/>
      <rect x="563.5" y="201" width="5" height="1.5"/>
    </g>
    <g fill="#7b8591">
      <circle cx="575" cy="164" r="0.9"/><circle cx="580" cy="170" r="0.9"/><circle cx="585" cy="177" r="0.9"/>
      <circle cx="572" cy="180" r="0.9"/><circle cx="578" cy="184" r="0.9"/><circle cx="584" cy="188" r="0.9"/>
      <circle cx="559" cy="175" r="0.9"/><circle cx="558" cy="190" r="0.9"/><circle cx="572" cy="194" r="0.9"/>
      <circle cx="578" cy="198" r="0.9"/><circle cx="556" cy="205" r="0.9"/><circle cx="572" cy="206" r="0.9"/>
      <circle cx="560" cy="214" r="0.9"/><circle cx="570" cy="216" r="0.9"/>
    </g>
    <!-- bearing bracket -->
    <polygon points="586,187 594,187 598,194 597,205 588,205" fill="#a9b1bc"/>
    <rect x="588" y="189" width="6" height="3" fill="#6b7480"/>
    <!-- hammer section -->
    <polygon points="497,199.5 551,197.5 553,227 502,227" fill="#b8c0ca"/>
    <polygon points="499,201 550,199 551,219 501,219" fill="#6e7a8c"/>
    <g fill="#4f6a9a" opacity="0.6">
      <polygon points="503,206 512,205 514,217 505,217"/>
      <polygon points="516,205 526,204 528,217 519,217"/>
      <polygon points="530,204 540,203 542,217 533,217"/>
    </g>
    <g fill="#b9c1cb">
      <polygon points="506,201 508.5,201 517,218 514.5,218"/>
      <polygon points="519.5,200.5 522,200.5 530,218 527.5,218"/>
      <polygon points="533.5,200 536,200 543,218 540.5,218"/>
      <polygon points="546,199.5 548.5,199.5 551,210 549,212"/>
    </g>
    <polygon points="501,216.5 551,215 552,226 502,227" fill="#ccd3dc"/>
    <g fill="#f4f6f8">
      <rect x="506" y="219.5" width="3" height="3.5"/>
      <rect x="517" y="219.5" width="3" height="3.5"/>
      <rect x="528" y="219.5" width="3" height="3.5"/>
      <rect x="539" y="219.5" width="3" height="3.5"/>
    </g>
    <!-- feed frame -->
    <polygon points="513,156 564.4,147.5 550.5,197.5 497,199.5" fill="#d2d7dd"/>
    <polygon points="513,156 564.4,147.5 564.4,149.5 513.5,158" fill="#e6e9ec"/>
    <!-- blue opening -->
    <polygon points="514,163.5 558,157 549,193.5 501.5,195.5" fill="#1b3b94"/>
    <polygon points="514,163.5 528,194.5 501.5,195.5" fill="#2b5fd8"/>
    <polygon points="514,163.5 558,157 557.5,159.5 515,166" fill="#2f5ed0"/>
    <!-- lower body -->
    <polygon points="497.5,227 569,229 569,252 559,262 497.5,260" fill="#d3d8de"/>
    <polygon points="501.5,225.5 568.5,228.8 568.5,231.5 501.5,228.5" fill="#2a5cc8"/>
    <g fill="#8c96a2">
      <circle cx="506" cy="237" r="0.8"/><circle cx="514" cy="237.5" r="0.8"/><circle cx="522" cy="238" r="0.8"/><circle cx="530" cy="238.5" r="0.8"/><circle cx="538" cy="239" r="0.8"/><circle cx="546" cy="239.5" r="0.8"/>
      <circle cx="506" cy="250" r="0.8"/><circle cx="514" cy="250.5" r="0.8"/><circle cx="522" cy="251" r="0.8"/><circle cx="530" cy="251.5" r="0.8"/><circle cx="538" cy="252" r="0.8"/><circle cx="546" cy="252.5" r="0.8"/>
    </g>
    <rect x="526" y="245" width="7" height="3" rx="1.5" fill="#6f7984"/>
    <polygon points="551,232 554,232 561,265 557,265" fill="#b0b8c2"/>
    <rect x="560" y="246" width="21" height="15" fill="#aab2ba"/>
    <rect x="578" y="249" width="24" height="12" fill="#4f555d"/>
    <rect x="497" y="259" width="66" height="2.5" fill="#b8bfc8"/>
    <!-- flywheel -->
    <ellipse cx="596.8" cy="229.9" rx="17.8" ry="25.2" fill="#2558c8"/>
    <ellipse cx="602.8" cy="229.9" rx="11.8" ry="23.6" fill="#2a5ed0"/>
    <ellipse cx="603.6" cy="229.9" rx="10.4" ry="22.3" fill="#c9d0d9"/>
    <ellipse cx="604" cy="229.9" rx="8" ry="18" fill="#dde2e8"/>
    <ellipse cx="602.1" cy="229.9" rx="4.1" ry="8.7" fill="#2456c8"/>
    <ellipse cx="602.6" cy="229.9" rx="2.7" ry="6.2" fill="#cdd4dc"/>
    <g fill="#6e7884">
      <circle cx="604" cy="214" r="0.8"/><circle cx="610" cy="222" r="0.8"/><circle cx="610" cy="237" r="0.8"/><circle cx="604" cy="245" r="0.8"/><circle cx="597" cy="238" r="0.8"/><circle cx="597" cy="221" r="0.8"/>
    </g>
  </g>

  <g id="screen">
    <!-- deck mesh -->
    <polygon points="325,260.5 375,260.5 331.5,313.5 262,313" fill="#e6e9ed"/>
    <polygon points="325,260.5 375,260.5 331.5,313.5 262,313" fill="url(#mesh)"/>
    <!-- blue dash rows on deck -->
    <g stroke="#3a8fe6" stroke-width="1.4" stroke-dasharray="4 2.2">
      <line x1="295" y1="292.3" x2="349" y2="292.3"/>
      <line x1="288" y1="297.9" x2="345" y2="297.9"/>
      <line x1="281" y1="303.4" x2="340" y2="303.4"/>
      <line x1="273" y1="309" x2="335" y2="309"/>
    </g>
    <!-- left rail -->
    <polygon points="323,258.5 328,259.5 265,314 259.8,313" fill="#22468e"/>
    <polygon points="326,260.5 328,260 265.5,313.5 264,313" fill="#5b86c8"/>
    <!-- back top rail -->
    <polygon points="324,258.5 375,258.5 375,262 325,262" fill="#2e66c8"/>
    <!-- right deck side plate -->
    <polygon points="374.5,258 377.5,257 378,285 352,318 349,318" fill="#cdd2d7"/>
    <polygon points="374.5,260 376,259 336,313 333,313" fill="#aab1b9"/>
    <!-- tiers -->
    <polygon points="261,313 331,313.5 331,346.6 261,346.6" fill="#a9b1ba"/>
    <g fill="#c9cfd6">
      <polygon points="285,321 329,321.5 329,324 280,324"/>
      <polygon points="282,329.5 329,330 329,332.5 278,332.5"/>
      <polygon points="276,337.5 329,338 329,340.5 272,340.5"/>
    </g>
    <g fill="#4a5670">
      <polygon points="262,320.5 285,320.5 275,325.6 262,325.6"/>
      <polygon points="262,329 280,329 272,333.2 262,333.2"/>
      <polygon points="262,337 274,337 268,341 262,341"/>
    </g>
    <polygon points="260.5,312.5 331,313 331,315.5 260.5,315.3" fill="#1f4590"/>
    <g fill="#3080d8">
      <polygon points="260.5,315.3 331,315.5 331,320.5 260.5,320.4"/>
      <polygon points="260.5,325.6 331,325.8 331,329 260.5,328.8"/>
      <polygon points="260.5,333.2 331,333.4 331,337 260.5,337"/>
      <polygon points="260.5,341.5 331,341.7 331,346.6 260.5,346.6"/>
    </g>
    <g fill="#1f4590">
      <polygon points="260.5,324.8 331,325 331,325.8 260.5,325.6"/>
      <polygon points="260.5,332.4 331,332.6 331,333.4 260.5,333.2"/>
      <polygon points="260.5,340.5 331,340.7 331,341.7 260.5,341.5"/>
    </g>
    <rect x="260.5" y="312.5" width="2" height="35" fill="#1f4590"/>
    <!-- foot left -->
    <rect x="267" y="346.5" width="11.5" height="6" fill="#d7dade"/>
    <rect x="267" y="346.5" width="11.5" height="1.2" fill="#a2a9b1"/>
    <!-- side plates -->
    <polygon points="364,280 368,280 368,300 342.7,330 342.7,355 329.7,354.5 329.7,311.6" fill="#c9ced4"/>
    <polygon points="332,311 338,306 338,354 332,354" fill="#b1b8c0"/>
    <polygon points="350,295 368,282 368,322 353,338 350,338" fill="#bfc5cc"/>
    <!-- front post -->
    <rect x="342.7" y="326" width="10.3" height="32" fill="#dfe2e6"/>
    <rect x="342.7" y="326" width="2.5" height="32" fill="#b5bcc3"/>
    <rect x="340.5" y="312" width="10" height="8" fill="#e4e7ea"/>
    <rect x="345" y="320" width="4" height="6" fill="#7d858e"/>
    <!-- top right post head -->
    <rect x="367.8" y="279" width="10" height="13" fill="#d3d7dc"/>
    <rect x="370" y="283" width="5" height="5" fill="#5d646c"/>
    <!-- exciter -->
    <ellipse cx="362" cy="298" rx="3.6" ry="8.6" fill="#50575f"/>
    <!-- blue arms -->
    <polygon points="392,290.5 398,292 397.5,318 391,320" fill="#4f6f9e"/>
    <polygon points="365.5,291.6 381.7,291.6 381.7,296.3 365.5,296.3" fill="#2f92de"/>
    <polygon points="362,297.4 380.6,297.4 380.6,303.3 362,303.3" fill="#3399e2"/>
    <polygon points="380.6,291.6 393.4,290.5 393.4,296.5 380.6,297.4" fill="#2d8ad8"/>
    <polygon points="388,291 394,292 387,326 381,325" fill="#3394e0"/>
    <!-- motor -->
    <rect x="366.6" y="313.7" width="15" height="8" fill="#3096e0" rx="2"/>
    <rect x="370" y="319.5" width="11.5" height="10.5" fill="#26478e"/>
    <!-- right posts -->
    <rect x="369.7" y="330" width="9" height="15" fill="#cfd3d8"/>
    <rect x="379" y="326.5" width="11" height="20" fill="#dcdfe3"/>
    <rect x="375" y="345" width="15.5" height="6.5" fill="#d3d7dc"/>
  </g>

</g>
</svg>
<div class="t" style="left:64px;top:89px;font-size:15px;color:#222;"><span class="c">给料仓</span></div>
<div class="t" style="left:276px;top:154px;font-size:11px;letter-spacing:0.4px;color:#222;">ZSW600*130<span class="c" style="letter-spacing:0">振动给料机</span></div>
<div class="t" style="left:499.5px;top:278px;font-size:11px;letter-spacing:0.4px;color:#222;">PCZ1716<span class="c" style="letter-spacing:0">重锤式破碎机</span></div>
<div class="t" style="left:312px;top:370.5px;font-size:11px;color:#222;"><span class="c">振动筛</span></div>
<div class="t" style="left:48.5px;top:223.3px;font-size:12px;letter-spacing:1px;color:#222;">10-30mm</div>
<div class="t" style="left:48.7px;top:273.4px;font-size:12px;letter-spacing:1px;color:#222;">10-20mm</div>
<div class="t" style="left:51.5px;top:326.7px;font-size:12px;letter-spacing:1px;color:#222;">5-10mm</div>
<div class="t" style="left:49px;top:376.8px;font-size:12px;letter-spacing:0.5px;color:#222;">5mm<span class="c">以下</span></div>
</body></html>
